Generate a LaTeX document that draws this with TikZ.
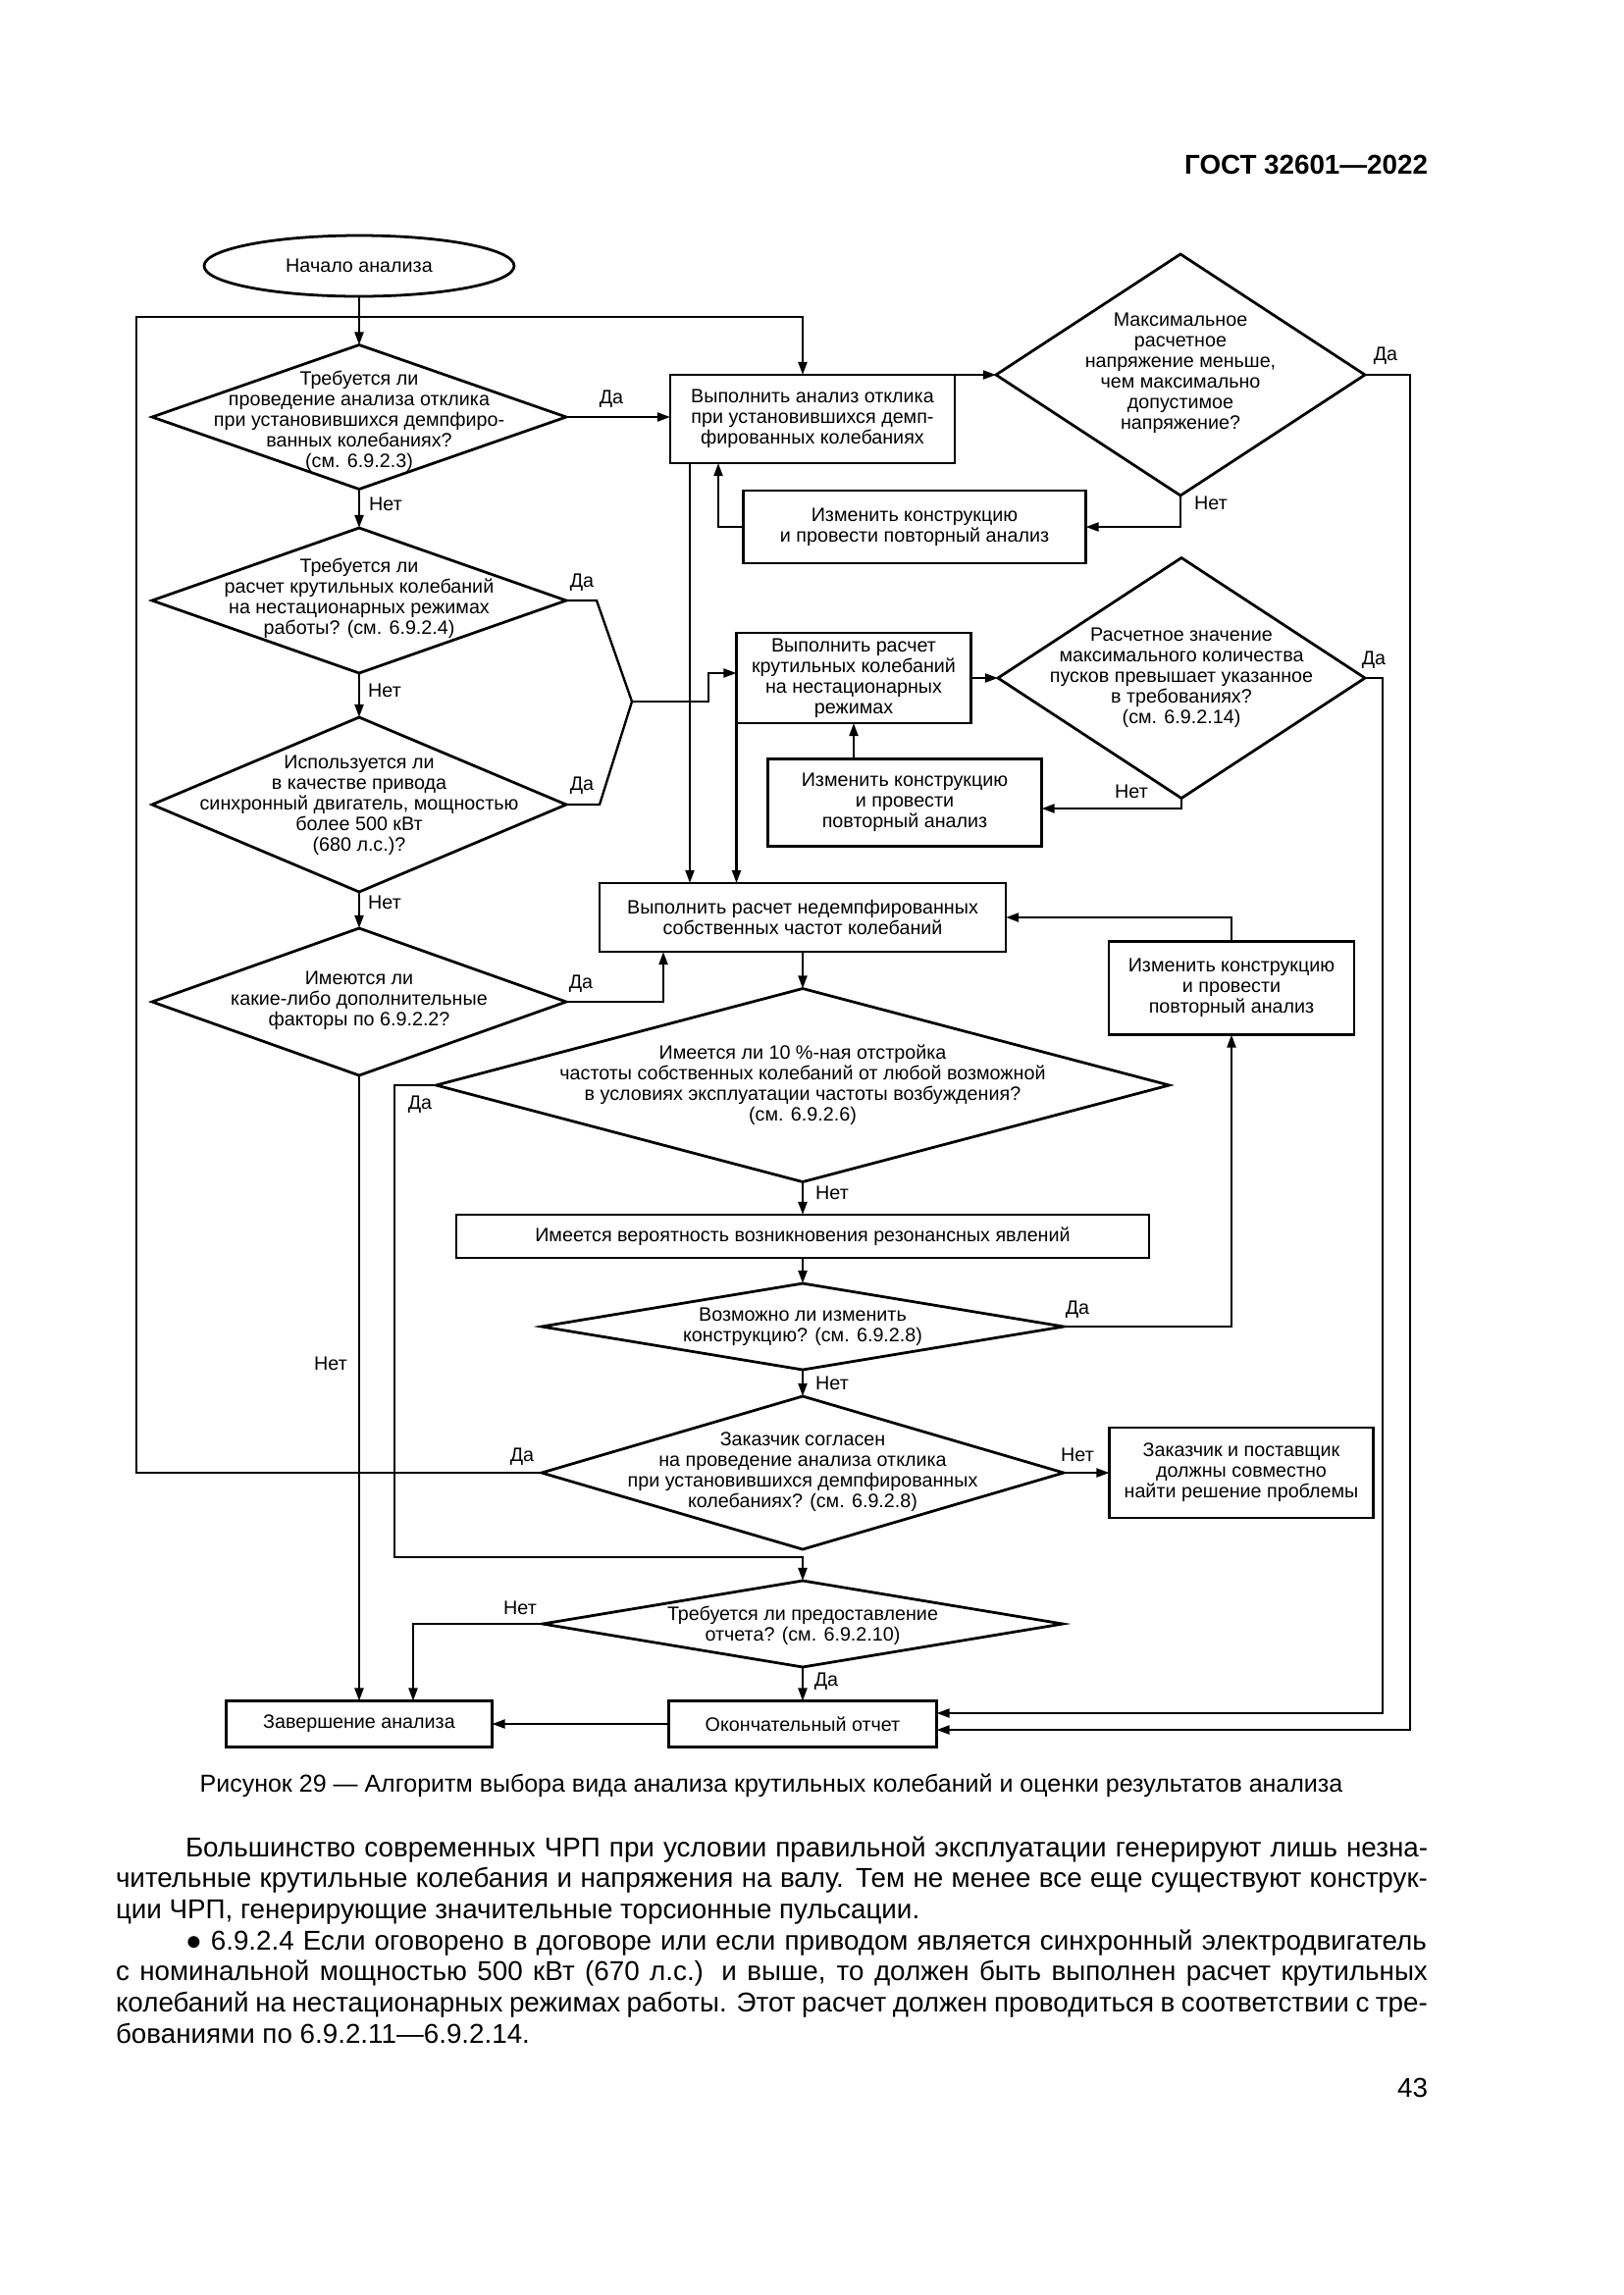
\documentclass[tikz,border=0pt]{standalone}
\usepackage{fontspec}
\setmainfont{Liberation Sans}
\usetikzlibrary{shapes.geometric,arrows.meta,calc}
\begin{document}
\begin{tikzpicture}[x=0.36pt,y=-0.36pt,
  every node/.style={inner sep=0pt, outer sep=0pt},
  bx/.style 2 args={draw, line width=1pt, rectangle, minimum width=#1*0.36pt, minimum height=#2*0.36pt, align=center, font=\fontsize{7.1}{7.56}\selectfont},
  dm/.style 2 args={draw, line width=1pt, diamond, minimum width=#1*0.36pt, minimum height=#2*0.36pt},
  tx/.style={align=center, font=\fontsize{7.1}{7.56}\selectfont},
  lb/.style={font=\fontsize{7.1}{7.56}\selectfont},
  ln/.style={line width=0.85pt},
  arr/.style={ln, -{Triangle[length=4.7pt,width=3.2pt]}},
  bodyf/.style={font=\fontsize{10}{11.4}\selectfont, anchor=base west},
]
\path[use as bounding box, fill=white] (0,0) rectangle (1654,2339);

% header
\node[font=\bfseries\fontsize{10}{12}\selectfont, anchor=base east] (hdr) at (1455,177) {ГОСТ 32601—2022};

% ---- nodes ----
\node[draw, ellipse, line width=1pt, minimum width=316*0.36pt, minimum height=62*0.36pt, font=\fontsize{7.1}{7.56}\selectfont] (e0) at (366,271) {Начало анализа};

\node[dm={422}{147}] (dq1) at (366,425) {};
\node[tx] (t1) at (366,429) {Требуется ли\\проведение анализа отклика\\при установившихся демпфиро-\\ванных колебаниях?\\(см. 6.9.2.3)};

\node[bx={290}{90}] (bx1) at (828,427) {Выполнить анализ отклика\\при установившихся демп-\\фированных колебаниях};

\node[dm={376}{246}] (dq2) at (1203,382) {};
\node[tx] (t2) at (1203,380) {Максимальное\\расчетное\\напряжение меньше,\\чем максимально\\допустимое\\напряжение?};

\node[bx={349}{74}] (bx2) at (932,537) {Изменить конструкцию\\и провести повторный анализ};

\node[dm={422}{148}] (dq3) at (366,612) {};
\node[tx] (t3) at (366,610) {Требуется ли\\расчет крутильных колебаний\\на нестационарных режимах\\работы? (см. 6.9.2.4)};

\node[dm={422}{178}] (dq4) at (366,820) {};
\node[tx] (t4) at (366,821) {Используется ли\\в качестве привода\\синхронный двигатель, мощностью\\более 500 кВт\\(680 л.с.)?};

\node[bx={239}{92}] (bx3) at (870,691) {Выполнить расчет\\крутильных колебаний\\на нестационарных\\режимах};

\node[dm={374}{245}] (dq5) at (1204,691) {};
\node[tx] (t5) at (1204,691) {Расчетное значение\\максимального количества\\пусков превышает указанное\\в требованиях?\\(см. 6.9.2.14)};

\node[bx={279}{89}] (bx4) at (922,818) {Изменить конструкцию\\и провести\\повторный анализ};

\node[bx={414}{70}] (bx5) at (818,935) {Выполнить расчет недемпфированных\\собственных частот колебаний};

\node[bx={250}{95}] (bx6) at (1255,1007) {Изменить конструкцию\\и провести\\повторный анализ};

\node[dm={422}{150}] (dq6) at (366,1021) {};
\node[tx] (t6) at (366,1020) {Имеются ли\\какие-либо дополнительные\\факторы по 6.9.2.2?};

\node[dm={747}{197}] (dq7) at (818,1106) {};
\node[tx] (t7) at (818,1106) {Имеется ли 10 \%-ная отстройка\\частоты собственных колебаний от любой возможной\\в условиях эксплуатации частоты возбуждения?\\(см. 6.9.2.6)};

\node[bx={706}{44}] (bx7) at (818,1260) {Имеется вероятность возникновения резонансных явлений};

\node[dm={532}{88}] (dq8) at (818,1352) {};
\node[tx] (t8) at (818,1352) {Возможно ли изменить\\конструкцию? (см. 6.9.2.8)};

\node[dm={532}{156}] (dq9) at (818,1501) {};
\node[tx] (t9) at (818,1500) {Заказчик согласен\\на проведение анализа отклика\\при установившихся демпфированных\\колебаниях? (см. 6.9.2.8)};

\node[bx={269}{92}] (bx8) at (1265,1501) {Заказчик и поставщик\\должны совместно\\найти решение проблемы};

\node[dm={530}{88}] (dq10) at (818,1655) {};
\node[tx] (t10) at (818,1657) {Требуется ли предоставление\\отчета? (см. 6.9.2.10)};

\node[bx={273}{47}] (bx9) at (818,1757) {Окончательный отчет};
\node[bx={271}{47}] (bx10) at (366,1757) {Завершение анализа};

% ---- connectors ----
\draw[arr] (e0.south) -- (dq1.north);
\coordinate (lpL) at (139,323);
\coordinate (lpR) at (818,323);
\draw[arr] (dq9.west) -| (lpL) -- (lpR) -- (lpR |- bx1.north);

\draw[arr] (dq1.east) -- (dq1.east -| bx1.west);
\draw[arr] (bx1.north east) -- (dq2.west);
\draw[arr] (dq2.south) |- (bx2.east);
\coordinate (u2) at (732,537);
\draw[arr] (bx2.west) -- (u2) -- (u2 |- bx1.south);
\coordinate (r2) at (1437,1763);
\draw[arr] (dq2.east) -| (r2) -- (r2 -| bx9.east);

\draw[arr] (dq1.south) -- (dq3.north);
\draw[arr] (dq3.south) -- (dq4.north);
\draw[arr] (dq4.south) -- (dq6.north);

\coordinate (mg) at (644,715);
\coordinate (m3) at (608,612);
\coordinate (m4) at (611,820);
\draw[ln] (dq3.east) -- (m3) -- (mg);
\draw[ln] (dq4.east) -- (m4) -- (mg);
\coordinate (s1) at (722,715);
\coordinate (s2) at (722,686);
\draw[arr] (mg) -- (s1) -- (s2) -- (s2 -| bx3.west);

\draw[arr] (bx3.east) -- (dq5.west);
\coordinate (n5) at (1204,824);
\draw[arr] (dq5.south) -- (n5) -- (n5 -| bx4.east);
\draw[arr] (bx4.north -| bx3.south) -- (bx3.south);
\coordinate (r5) at (1409,1746);
\draw[arr] (dq5.east) -| (r5) -- (r5 -| bx9.east);

\draw[arr] (bx3.south west) -- (bx3.south west |- bx5.north);
\coordinate (k1) at ($(bx1.south west)+(20,0)$);
\draw[arr] (k1) -- (k1 |- bx5.north);

\coordinate (y6) at (676,1021);
\draw[arr] (dq6.east) -- (y6) -- (y6 |- bx5.south);
\draw[arr] (dq6.south) -- (dq6.south |- bx10.north);

\draw[arr] (bx5.south) -- (dq7.north);
\draw[arr] (bx6.north) |- (bx5.east);

\coordinate (y7a) at (402,1106);
\coordinate (y7b) at (402,1587);
\coordinate (y7c) at (818,1587);
\draw[arr] (dq7.west) -- (y7a) -- (y7b) -- (y7c) -- (dq10.north);
\draw[arr] (dq7.south) -- (bx7.north);
\draw[arr] (bx7.south) -- (dq8.north);
\draw[arr] (dq8.east) -| (bx6.south);
\draw[arr] (dq8.south) -- (dq9.north);
\draw[arr] (dq9.east) -- (bx8.west);
\coordinate (n10) at (421,1655);
\draw[arr] (dq10.west) -- (n10) -- (n10 |- bx10.north);
\draw[arr] (dq10.south) -- (bx9.north);
\draw[arr] (bx9.west) -- (bx10.east);

% ---- labels ----
\node[lb] (l1) at (623,407) {Да};
\node[lb] (l2) at (393,514) {Нет};
\node[lb] (l3) at (1412,363) {Да};
\node[lb] (l4) at (1234,513) {Нет};
\node[lb] (l5) at (593,594) {Да};
\node[lb] (l6) at (392,704) {Нет};
\node[lb] (l7) at (593,801) {Да};
\node[lb] (l8) at (392,920) {Нет};
\node[lb] (l9) at (1400,673) {Да};
\node[lb] (l10) at (1153,807) {Нет};
\node[lb] (l11) at (592,1003) {Да};
\node[lb] (l12) at (428,1126) {Да};
\node[lb] (l13) at (848,1216) {Нет};
\node[lb] (l14) at (1098,1335) {Да};
\node[lb] (l15) at (848,1410) {Нет};
\node[lb] (l16) at (337,1390) {Нет};
\node[lb] (l17) at (532,1485) {Да};
\node[lb] (l18) at (1098,1483) {Нет};
\node[lb] (l19) at (530,1639) {Нет};
\node[lb] (l20) at (842,1714) {Да};

% ---- caption and text ----
\node[font=\fontsize{9}{11}\selectfont, anchor=base] (cap) at (786,1826) {Рисунок 29 — Алгоритм выбора вида анализа крутильных колебаний и оценки результатов анализа};

\node[bodyf] (p1) at (189,1892) {\makebox[455.8pt][s]{Большинство современных ЧРП при условии правильной эксплуатации генерируют лишь незна-}};
\node[bodyf] (p2) at (118,1923.7) {\makebox[481.3pt][s]{чительные крутильные колебания и напряжения на валу. Тем не менее все еще существуют конструк-}};
\node[bodyf] (p3) at (118,1955.3) {ции ЧРП, генерирующие значительные торсионные пульсации.};
\node[bodyf] (p4) at (189,1987) {\makebox[455.4pt][s]{● 6.9.2.4 Если оговорено в договоре или если приводом является синхронный электродвигатель}};
\node[bodyf] (p5) at (118,2018.7) {\makebox[481.3pt][s]{с номинальной мощностью 500 кВт (670 л.с.) и выше, то должен быть выполнен расчет крутильных}};
\node[bodyf] (p6) at (118,2050.3) {\makebox[481.3pt][s]{колебаний на нестационарных режимах работы. Этот расчет должен проводиться в соответствии с тре-}};
\node[bodyf] (p7) at (118,2082) {бованиями по 6.9.2.11—6.9.2.14.};
\node[font=\fontsize{10}{11.4}\selectfont, anchor=base east] (pg) at (1455,2137) {43};
\end{tikzpicture}
\end{document}
